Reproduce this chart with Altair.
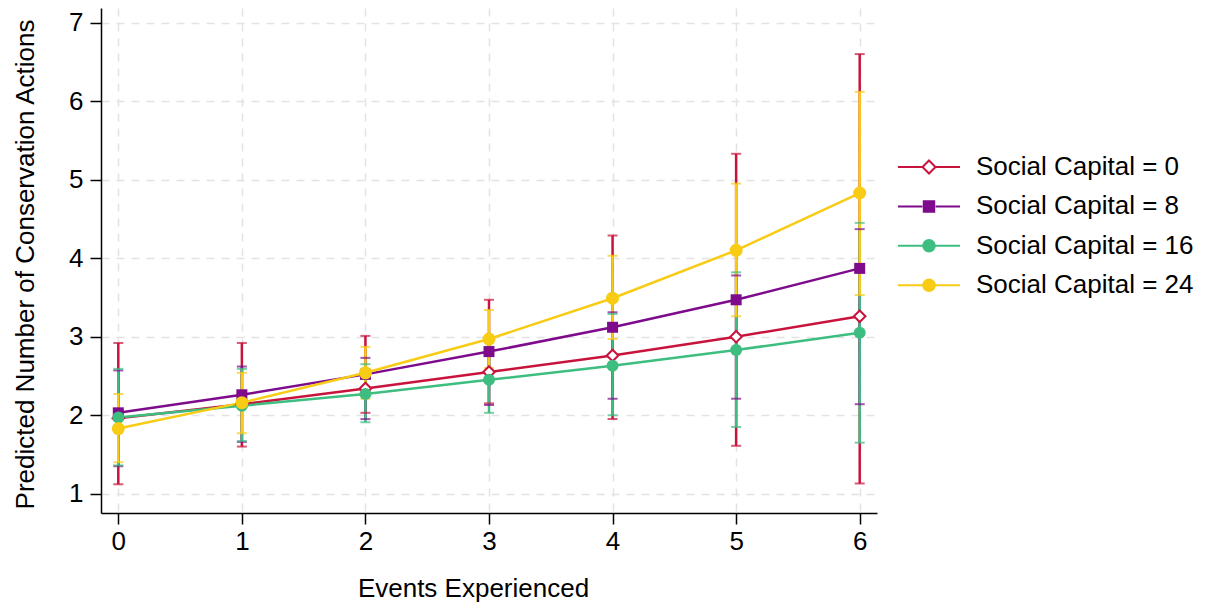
import altair as alt
import pandas as pd

FONT = "Liberation Sans"

# ---------------- data ----------------
events = [0, 1, 2, 3, 4, 5, 6]
series_labels = ["Social Capital = 0", "Social Capital = 8",
                 "Social Capital = 16", "Social Capital = 24"]
series_keys = ["sc0", "sc8", "sc16", "sc24"]
series_colors = ["#C8143C", "#7E0A8C", "#3DBE80", "#F8CB14"]

pred_sc0 = [1.96, 2.14, 2.34, 2.55, 2.76, 3.00, 3.26]
pred_sc8 = [2.03, 2.26, 2.52, 2.81, 3.12, 3.47, 3.87]
pred_sc16 = [1.97, 2.12, 2.27, 2.45, 2.63, 2.83, 3.05]
pred_sc24 = [1.83, 2.16, 2.54, 2.97, 3.49, 4.10, 4.83]

ci_lo_sc0 = [1.35, 1.66, 1.95, 2.13, 2.21, 2.21, 2.14]
ci_hi_sc0 = [2.57, 2.62, 2.73, 2.97, 3.31, 3.78, 4.37]
ci_lo_sc8 = [1.12, 1.60, 2.03, 2.15, 1.95, 1.61, 1.13]
ci_hi_sc8 = [2.92, 2.92, 3.01, 3.47, 4.29, 5.33, 6.60]
ci_lo_sc16 = [1.36, 1.67, 1.91, 2.03, 2.00, 1.85, 1.65]
ci_hi_sc16 = [2.59, 2.59, 2.65, 2.87, 3.29, 3.82, 4.45]
ci_lo_sc24 = [1.40, 1.77, 2.21, 2.60, 2.97, 3.26, 3.53]
ci_hi_sc24 = [2.27, 2.54, 2.87, 3.34, 4.03, 4.95, 6.12]

# colour (series index) in which each series' CI is drawn in the reference
ci_drawn_as = [1, 0, 2, 3]
# drawing order of the CIs (series index)
ci_draw_order = [1, 0, 2, 3]

x_ticks = [0, 1, 2, 3, 4, 5, 6]
y_ticks = [1, 2, 3, 4, 5, 6, 7]

# ---------------- tables ----------------
preds = [pred_sc0, pred_sc8, pred_sc16, pred_sc24]
los = [ci_lo_sc0, ci_lo_sc8, ci_lo_sc16, ci_lo_sc24]
his = [ci_hi_sc0, ci_hi_sc8, ci_hi_sc16, ci_hi_sc24]

pred_rows = []
for s, lab in enumerate(series_labels):
    for e, v in zip(events, preds[s]):
        pred_rows.append({"events": e, "series": lab, "key": series_keys[s], "pred": v})
df_pred = pd.DataFrame(pred_rows)

ci_rows = []
for s in ci_draw_order:
    for e, lo, hi in zip(events, los[s], his[s]):
        ci_rows.append({"events": e, "drawn": series_keys[ci_drawn_as[s]],
                        "lo": lo, "hi": hi})
df_ci = pd.DataFrame(ci_rows)

color_scale = alt.Scale(domain=series_keys, range=series_colors)

# ---------------- legend symbols (line + marker) ----------------
seg = "M-5.64,0H-1.2M1.2,0H5.64"
legend_paths = [
    seg + "M0,-1.18L1.18,0L0,1.18L-1.18,0Z",
    seg + "M-0.95,-0.95H0.95V0.95H-0.95Z",
    seg + "M-1.05,0A1.05,1.05 0 1,0 1.05,0A1.05,1.05 0 1,0 -1.05,0Z",
    seg + "M-1.05,0A1.05,1.05 0 1,0 1.05,0A1.05,1.05 0 1,0 -1.05,0Z",
]
legend_fills = ["white"] + series_colors[1:]

legend = alt.Legend(
    title=None, orient="none", legendX=815, legendY=146,
    symbolSize=121, symbolStrokeWidth=2, symbolOpacity=1,
    labelFont=FONT, labelFontSize=26, labelColor="black", labelLimit=400,
    labelOffset=34, rowPadding=13.4, padding=0,
)

# ---------------- encodings ----------------
x_axis = alt.Axis(values=x_ticks, format="d", title="Events Experienced",
                  titleX=372, titlePadding=21, labelPadding=4)
y_axis = alt.Axis(values=y_ticks, format="d",
                  title="Predicted Number of Conservation Actions",
                  titleY=256, titlePadding=30, labelPadding=7)

x_enc = alt.X("events:Q", scale=alt.Scale(domain=[-0.14, 6.14], nice=False, zero=False),
              axis=x_axis)


def y_enc(field):
    return alt.Y(field, scale=alt.Scale(domain=[0.754, 7.187], nice=False, zero=False),
                 axis=y_axis)


rules = alt.Chart(df_ci).mark_rule(strokeWidth=2.5).encode(
    x=x_enc, y=y_enc("lo:Q"), y2="hi:Q",
    color=alt.Color("drawn:N", scale=color_scale, legend=None))
caps_lo = alt.Chart(df_ci).mark_tick(orient="horizontal", size=10, thickness=2).encode(
    x=x_enc, y=y_enc("lo:Q"),
    color=alt.Color("drawn:N", scale=color_scale, legend=None))
caps_hi = alt.Chart(df_ci).mark_tick(orient="horizontal", size=10, thickness=2).encode(
    x=x_enc, y=y_enc("hi:Q"),
    color=alt.Color("drawn:N", scale=color_scale, legend=None))

lines = alt.Chart(df_pred).mark_line(strokeWidth=2.5).encode(
    x=x_enc, y=y_enc("pred:Q"),
    color=alt.Color("key:N", scale=color_scale, legend=None))

marker_specs = [
    dict(shape="diamond", filled=False, fill="white", strokeWidth=2, size=132),
    dict(shape="square", filled=True, size=121),
    dict(shape="circle", filled=True, size=144),
    dict(shape="circle", filled=True, size=169),
]
point_layers = []
for lab, spec in zip(series_labels, marker_specs):
    point_layers.append(
        alt.Chart(df_pred).transform_filter(alt.datum.series == lab)
        .mark_point(opacity=1, **spec).encode(
            x=x_enc, y=y_enc("pred:Q"),
            color=alt.Color("key:N", scale=color_scale, legend=None)))

# legend-carrying layer: its marks are invisible, it only provides the
# line+marker legend symbols
legend_layer = alt.Chart(df_pred).mark_point(opacity=0, strokeWidth=2).encode(
    x=x_enc, y=y_enc("pred:Q"),
    shape=alt.Shape("series:N", scale=alt.Scale(domain=series_labels, range=legend_paths),
                    legend=legend),
    fill=alt.Fill("series:N", scale=alt.Scale(domain=series_labels, range=legend_fills),
                  legend=legend),
    stroke=alt.Stroke("series:N", scale=alt.Scale(domain=series_labels, range=series_colors),
                      legend=legend),
)

chart = alt.layer(rules, caps_lo, caps_hi, lines, *point_layers, legend_layer).properties(
    width=776, height=505,
    autosize=alt.AutoSizeParams(type="none"),
    padding={"left": 93, "top": 0, "right": 320, "bottom": 93},
    background="white",
).configure_view(stroke=None).configure_axis(
    labelFont=FONT, titleFont=FONT, labelFontSize=26, titleFontSize=26,
    labelColor="black", titleColor="black", titleFontWeight="normal",
    tickSize=11, tickWidth=1.5, tickColor="black",
    domainColor="black", domainWidth=1.5,
    grid=True, gridDash=[8, 7], gridColor="#e3e3e3", gridWidth=1.5,
    labelFlush=False, labelOverlap=False,
)

chart.save("out.html", embed_options={"renderer": "svg", "actions": False})
